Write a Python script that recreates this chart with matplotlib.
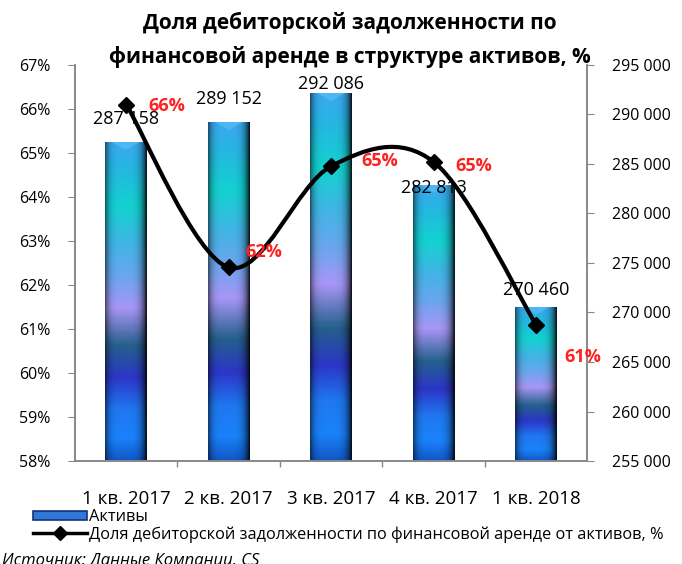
import numpy as np
import matplotlib
matplotlib.use('Agg')
from matplotlib import pyplot as plt
from matplotlib.path import Path
from matplotlib.patches import PathPatch, Rectangle
from matplotlib.lines import Line2D
from matplotlib.colors import LinearSegmentedColormap
from matplotlib.ticker import FuncFormatter, MultipleLocator

plt.rcParams['font.family'] = ['Open Sans', 'DejaVu Sans']

quarters = ['1 кв. 2017', '2 кв. 2017', '3 кв. 2017', '4 кв. 2017', '1 кв. 2018']
assets = [287158, 289152, 292086, 282813, 270460]
share_pct = [66.1, 62.4, 64.7, 64.8, 61.1]
share_labels = ['66%', '62%', '65%', '65%', '61%']

TITLE = 'Доля дебиторской задолженности по\nфинансовой аренде в структуре активов, %'
BAR_LABEL = 'Активы'
LINE_LABEL = 'Доля дебиторской задолженности по финансовой аренде от активов, %'
SOURCE = 'Источник: Данные Компании, CS'

BAR_W = 0.41
ASSET_MIN, ASSET_MAX = 255000, 295000

# offsets (points) for the hand-placed data labels
bar_label_offsets = [(0, 17), (0, 17), (0, 7), (0, -2), (0, 13)]
pct_label_offsets = [(29, -1), (25, 11), (35, 4), (29, -3), (34, -23)]

bar_cmap = LinearSegmentedColormap.from_list('bars', [
    (0.00, '#1258c8'),
    (0.07, '#1a82fb'),
    (0.16, '#1f78f0'),
    (0.26, '#2c36c8'),
    (0.36, '#24608c'),
    (0.48, '#a896f6'),
    (0.58, '#6aa6ee'),
    (0.68, '#42b4e6'),
    (0.80, '#12d2d0'),
    (0.92, '#26b6e2'),
    (1.00, '#3aa8f0'),
])


def bar_image(value, rows=300, cols=60):
    t = np.linspace(0, 1, rows)[::-1]
    rgb = bar_cmap(t)[:, :3]
    u = np.linspace(0, 1, cols)
    shade = 1 - 0.55 * np.abs(2 * u - 1) ** 5
    shade[u > 0.5] -= 0.35 * ((u[u > 0.5] - 0.5) / 0.5) ** 3
    img = rgb[:, None, :] * shade[None, :, None]
    # bevel on top of the bar
    depth = (ASSET_MAX - ASSET_MIN) * 0.018
    dist_top = (1 - t) * (value - ASSET_MIN)
    for r in range(rows):
        if dist_top[r] < depth:
            edge = 0.18 + 0.32 * dist_top[r] / depth
            mask = (u > edge) & (u < 1 - edge)
            img[r, mask] = img[r, mask] * 0.6 + np.array([0.45, 0.8, 0.98]) * 0.4
    return np.clip(img, 0, 1)


def smooth_path(xs, ys):
    pts = np.column_stack([xs, ys]).astype(float)
    ext = np.vstack([pts[0], pts, pts[-1]])
    verts = [tuple(pts[0])]
    codes = [Path.MOVETO]
    for i in range(len(pts) - 1):
        p0, p1, p2, p3 = ext[i], ext[i + 1], ext[i + 2], ext[i + 3]
        c1 = p1 + (p2 - p0) / 6
        c2 = p2 - (p3 - p1) / 6
        verts += [tuple(c1), tuple(c2), tuple(p2)]
        codes += [Path.CURVE4] * 3
    return Path(verts, codes)


fig = plt.figure(figsize=(6.82, 5.64), dpi=100)
ax = fig.add_axes([0.110, 0.1826, 0.751, 0.7022])
ax2 = ax.twinx()

x = np.arange(len(quarters))

for i, val in enumerate(assets):
    ax2.imshow(bar_image(val), extent=(x[i] - BAR_W / 2, x[i] + BAR_W / 2, ASSET_MIN, val),
               aspect='auto', interpolation='bilinear', zorder=2)
    ax2.annotate(f'{val:,}'.replace(',', ' '), (x[i], val), xytext=bar_label_offsets[i],
                 textcoords='offset points', ha='center', va='center',
                 fontsize=13, color='#000000', zorder=5)

ax2.set_ylim(ASSET_MIN, ASSET_MAX)
ax2.yaxis.set_major_locator(MultipleLocator(5000))
ax2.yaxis.set_major_formatter(FuncFormatter(lambda v, p: f'{int(v):,}'.replace(',', ' ')))

ax.set_zorder(ax2.get_zorder() + 1)
ax.patch.set_visible(False)
ax.add_patch(PathPatch(smooth_path(x, share_pct), facecolor='none', edgecolor='black',
                       lw=3, capstyle='round', zorder=3))
ax.plot(x, share_pct, linestyle='none', marker='D', markersize=8, color='black', zorder=4)
for i, val in enumerate(share_pct):
    ax.annotate(share_labels[i], (x[i], val), xytext=pct_label_offsets[i],
                textcoords='offset points', ha='center', va='center',
                fontsize=13, fontweight='bold', color='#ff2020', zorder=5)

ax.set_ylim(58, 67)
ax.yaxis.set_major_locator(MultipleLocator(1))
ax.yaxis.set_major_formatter(FuncFormatter(lambda v, p: f'{v:.0f}%'))
ax.set_xlim(-0.5, len(quarters) - 0.5)
ax.set_xticks(x)
ax.set_xticklabels(quarters)
ax.set_xticks(x[:-1] + 0.5, minor=True)
ax.tick_params(axis='x', which='major', length=0, pad=21, labelsize=13.5)
ax.tick_params(axis='x', which='minor', length=4, color='#888888', width=1)
ax.tick_params(axis='y', length=5, color='#888888', pad=13, labelsize=11.5)
ax2.tick_params(axis='y', length=5, color='#888888', pad=13, labelsize=11.5)

for a in (ax, ax2):
    for s in a.spines.values():
        s.set_color('#888888')
        s.set_linewidth(1.2)
    a.spines['top'].set_visible(False)

fig.text(0.513, 0.929, TITLE, ha='center', va='center', fontsize=15, fontweight='bold',
         linespacing=1.7)

handles = [Rectangle((0, 0), 1, 1, facecolor='#2f78d8', edgecolor='#16307a', lw=1.2),
           Line2D([], [], color='black', lw=2.5, marker='D', markersize=7)]
fig.legend(handles, [BAR_LABEL, LINE_LABEL], loc='upper left', bbox_to_anchor=(0.048, 0.097),
           frameon=False, fontsize=11.8, handlelength=3.3, handleheight=0.45,
           handletextpad=0.15, labelspacing=0.05, borderaxespad=0, borderpad=0)

fig.text(0.003, 1 - 552 / 564, SOURCE, ha='left', va='top', fontsize=12, style='italic')

fig.savefig('out.png', dpi=100)
